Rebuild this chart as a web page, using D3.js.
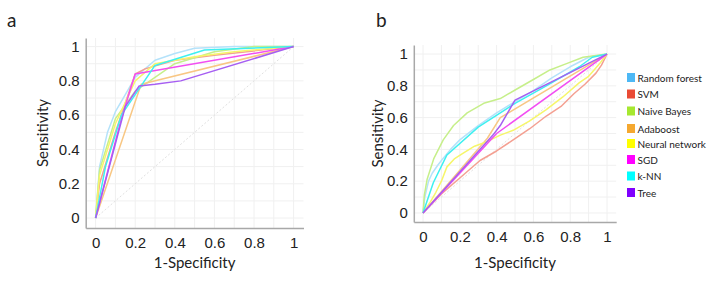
<!DOCTYPE html>
<html>
<head>
<meta charset="utf-8">
<script src="https://cdn.jsdelivr.net/npm/d3@7"></script>
<style>
  body { margin: 0; background: #fff; }
  svg { font-family: Lato, "Open Sans", sans-serif; }
</style>
</head>
<body>
<svg id="chart" width="710" height="285"></svg>
<script>
// model names and colours
const models = ['Random forest', 'SVM', 'Naive Bayes', 'Adaboost', 'Neural network', 'SGD', 'k-NN', 'Tree'];
const legendColors = ['#4db8f5', '#ea4b35', '#a6e830', '#f5a830', '#ffff00', '#ff00ff', '#00ffff', '#7f00ff'];
const lineColors = ['#b4e2fa', '#f4a092', '#c6ef8a', '#f8c784', '#f6f66a', '#f24ef2', '#3ef0f0', '#a65ef2'];
const tickValues = [0, 0.2, 0.4, 0.6, 0.8, 1];

// panel a : ROC points [1-specificity, sensitivity]
const rocA = [
  [[0,0],[0.02,0.3],[0.06,0.5],[0.1,0.62],[0.15,0.72],[0.2,0.82],[0.3,0.92],[0.4,0.96],[0.5,0.99],[0.7,1],[1,1]],
  [[0,0],[0.02,0.2],[0.1,0.5],[0.2,0.84],[0.25,0.87],[0.4,0.92],[0.6,0.95],[1,1]],
  [[0,0],[0.02,0.28],[0.1,0.58],[0.2,0.74],[0.3,0.82],[0.4,0.9],[0.6,0.97],[0.8,1],[1,1]],
  [[0,0],[0.23,0.78],[1,1]],
  [[0,0],[0.02,0.25],[0.1,0.55],[0.2,0.8],[0.3,0.9],[0.5,0.94],[0.7,0.97],[1,1]],
  [[0,0],[0.13,0.58],[0.2,0.84],[1,1]],
  [[0,0],[0.05,0.3],[0.13,0.6],[0.3,0.89],[0.55,0.98],[1,1]],
  [[0,0],[0.15,0.65],[0.22,0.77],[0.3,0.78],[0.43,0.8],[1,1]]
];

// panel b : ROC points [1-specificity, sensitivity]
const rocB = [
  [[0,0],[0.01,0.1],[0.03,0.2],[0.05,0.25],[0.08,0.3],[0.1,0.33],[0.15,0.4],[0.2,0.46],[0.3,0.55],[0.4,0.63],[0.5,0.7],[0.6,0.77],[0.7,0.85],[0.8,0.92],[0.9,0.98],[1,1]],
  [[0,0],[0.1,0.12],[0.2,0.22],[0.25,0.27],[0.31,0.33],[0.4,0.39],[0.49,0.46],[0.58,0.53],[0.67,0.61],[0.75,0.67],[0.82,0.75],[0.88,0.81],[0.94,0.88],[0.97,0.93],[1,1]],
  [[0,0],[0.007,0.11],[0.022,0.21],[0.058,0.34],[0.11,0.46],[0.166,0.55],[0.24,0.63],[0.33,0.69],[0.42,0.72],[0.51,0.78],[0.6,0.84],[0.69,0.9],[0.78,0.94],[0.87,0.98],[1,1]],
  [[0,0],[0.35,0.47],[0.42,0.6],[1,1]],
  [[0,0],[0.04,0.07],[0.07,0.13],[0.1,0.2],[0.13,0.29],[0.17,0.34],[0.21,0.37],[0.28,0.42],[0.35,0.45],[0.42,0.49],[0.49,0.52],[0.58,0.58],[0.67,0.65],[0.76,0.73],[0.85,0.82],[0.9,0.86],[0.93,0.9],[0.96,0.94],[1,1]],
  [[0,0],[0.4,0.5],[1,1]],
  [[0,0],[0.056,0.19],[0.13,0.365],[0.3,0.54],[0.5,0.69],[0.67,0.8],[0.85,0.92],[0.92,0.98],[1,1]],
  [[0,0],[0.38,0.49],[0.42,0.55],[0.5,0.71],[1,1]]
];

const svg = d3.select('#chart');
const fmt = d => d === 0 || d === 1 ? String(d) : d3.format('.1f')(d);

function drawPanel(cfg, roc) {
  const x = d3.scaleLinear().domain([-0.05, 1.05]).range([cfg.left, cfg.right]);
  const y = d3.scaleLinear().domain([cfg.yMin, cfg.yMax]).range([cfg.bottom, cfg.top]);
  const g = svg.append('g');

  // grid
  const grid = d3.range(0, 1.01, 0.1);
  g.append('g').selectAll('line.v').data(grid).join('line')
    .attr('x1', d => x(d)).attr('x2', d => x(d))
    .attr('y1', cfg.top).attr('y2', cfg.bottom)
    .attr('stroke', '#f0f0f0').attr('stroke-width', 1);
  g.append('g').selectAll('line.h').data(grid).join('line')
    .attr('x1', cfg.left).attr('x2', cfg.right)
    .attr('y1', d => y(d)).attr('y2', d => y(d))
    .attr('stroke', '#f0f0f0').attr('stroke-width', 1);

  // chance diagonal
  g.append('line')
    .attr('x1', x(0)).attr('y1', y(0)).attr('x2', x(1)).attr('y2', y(1))
    .attr('stroke', '#e0e0e0').attr('stroke-width', 1).attr('stroke-dasharray', '2,2');

  // axes
  const xAxis = d3.axisBottom(x).tickValues(tickValues).tickFormat(fmt).tickSize(0).tickPadding(9);
  const yAxis = d3.axisLeft(y).tickValues(tickValues).tickFormat(fmt).tickSize(0).tickPadding(6);
  g.append('g').attr('transform', `translate(0,${cfg.bottom})`).call(xAxis)
    .call(a => a.select('.domain').attr('stroke', '#a8a8a8').attr('stroke-width', 1.5))
    .call(a => a.selectAll('text').attr('font-size', 15).attr('fill', '#222').attr('font-family', null));
  g.append('g').attr('transform', `translate(${cfg.left},0)`).call(yAxis)
    .call(a => a.select('.domain').attr('stroke', '#a8a8a8').attr('stroke-width', 1.5))
    .call(a => a.selectAll('text').attr('font-size', 15).attr('fill', '#222').attr('font-family', null));

  // curves
  const line = d3.line().x(d => x(d[0])).y(d => y(d[1]));
  g.append('g').selectAll('path').data(roc).join('path')
    .attr('d', line)
    .attr('fill', 'none')
    .attr('stroke', (d, i) => lineColors[i])
    .attr('stroke-width', 1.5)
    .attr('stroke-linejoin', 'round');

  // titles
  g.append('text')
    .attr('x', (cfg.left + cfg.right) / 2).attr('y', 268)
    .attr('text-anchor', 'middle').attr('font-size', 15).attr('fill', '#222')
    .text('1-Specificity');
  g.append('text')
    .attr('transform', `translate(${cfg.yTitleX},${(cfg.top + cfg.bottom) / 2}) rotate(-90)`)
    .attr('text-anchor', 'middle').attr('font-size', 15).attr('fill', '#222')
    .text('Sensitivity');
  g.append('text')
    .attr('x', cfg.labelX).attr('y', 27)
    .attr('font-size', 19).attr('fill', '#222')
    .text(cfg.label);
}

drawPanel({left: 85.7, right: 303.5, top: 38, bottom: 228, yMin: -0.058, yMax: 1.05, yTitleX: 48, labelX: 7, label: 'a'}, rocA);
drawPanel({left: 413.8, right: 616.2, top: 45, bottom: 222, yMin: -0.057, yMax: 1.057, yTitleX: 383, labelX: 376, label: 'b'}, rocB);

// legend
const legend = svg.append('g').attr('transform', 'translate(627,73)');
const rowY = [0, 16.5, 33.5, 51, 66, 82, 98.5, 115];
const items = legend.selectAll('g').data(models).join('g')
  .attr('transform', (d, i) => `translate(0,${rowY[i]})`);
items.append('rect')
  .attr('width', 8).attr('height', 9)
  .attr('fill', (d, i) => legendColors[i]);
items.append('text')
  .attr('x', 10.5).attr('y', 8.5)
  .attr('font-size', 10).attr('fill', '#222')
  .text(d => d);
</script>
</body>
</html>
